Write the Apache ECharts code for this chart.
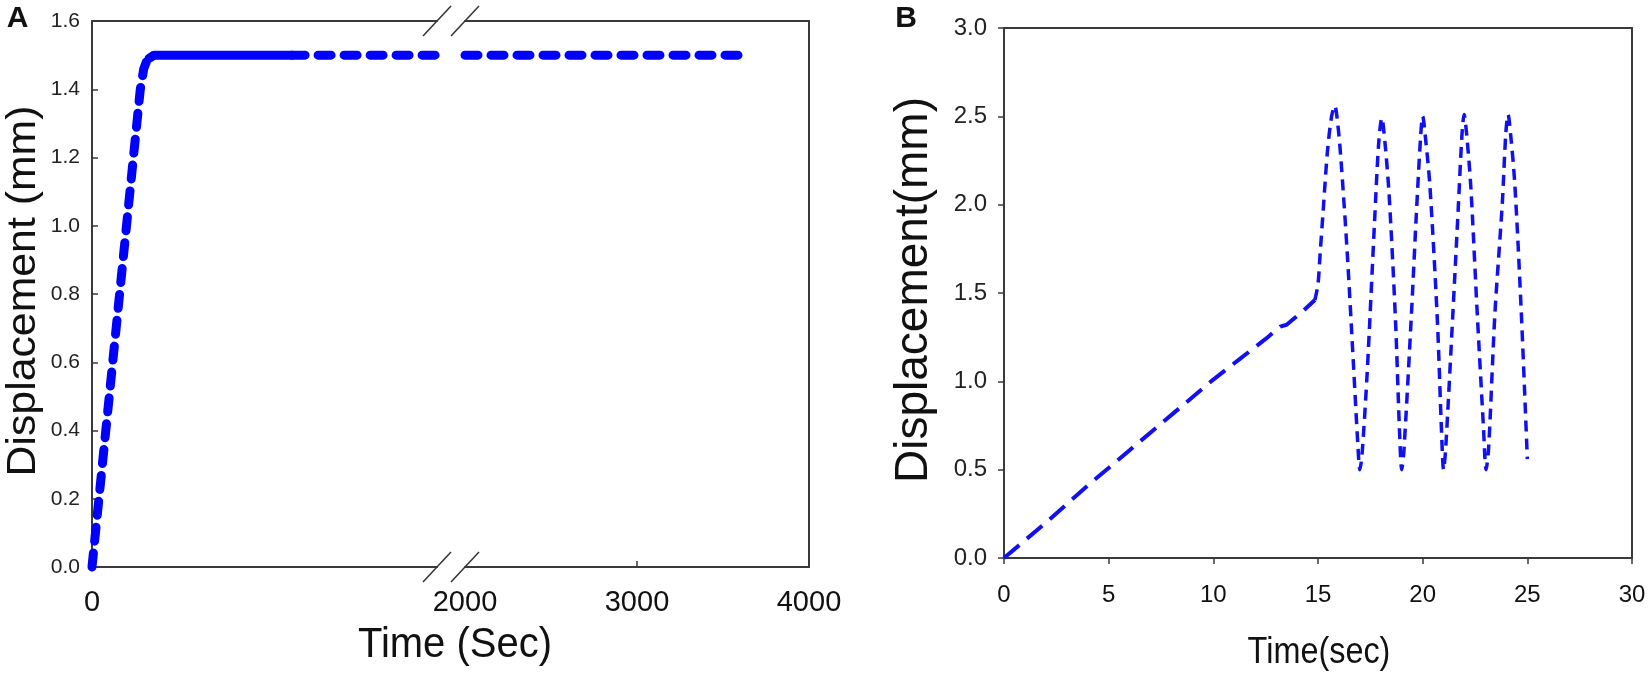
<!DOCTYPE html>
<html><head><meta charset="utf-8">
<script src="https://cdn.jsdelivr.net/npm/echarts@6/dist/echarts.min.js"></script>
<style>html,body{margin:0;padding:0;background:#fff}#c{width:1650px;height:684px}</style>
</head><body><div id="c"></div>
<script>
// ---- Panel A data (time in s, displacement in mm) ----
const timeA = [0,20,40,60,80,100,120,140,160,180,200,220,240,260,280,300,315,330,360,450,600,800,1000,1160,1400,1600,1800,2000,2200,2400,2600,2800,3000,3200,3400,3600];
const dispA = [0,0.1,0.2,0.3,0.4,0.5,0.6,0.7,0.8,0.9,1.0,1.1,1.2,1.3,1.4,1.46,1.48,1.49,1.5,1.5,1.5,1.5,1.5,1.5,1.5,1.5,1.5,1.5,1.5,1.5,1.5,1.5,1.5,1.5,1.5,1.5];
const xLabelsA = [0, 2000, 3000, 4000];
// ---- Panel B data ----
const timeB = [0,2,4,6,8,10,11.3,12.5,13.2,13.5,13.8,14.3,14.85,15.0,15.1,15.25,15.45,15.65,15.8,15.95,16.1,16.4,16.7,16.9,17.0,17.1,17.35,17.7,17.9,18.05,18.2,18.4,18.7,18.9,19.0,19.1,19.45,19.7,19.9,20.0,20.15,20.35,20.7,20.9,21.0,21.1,21.45,21.7,21.88,21.98,22.1,22.3,22.6,22.9,23.03,23.15,23.45,23.8,23.97,24.08,24.2,24.4,24.7,25.0];
const dispB = [0,0.2,0.41,0.61,0.81,1.01,1.13,1.24,1.31,1.32,1.35,1.40,1.46,1.55,1.72,1.97,2.3,2.5,2.56,2.45,2.25,1.72,1.08,0.65,0.5,0.58,1.05,1.9,2.35,2.49,2.35,2.05,1.35,0.7,0.5,0.6,1.35,1.95,2.38,2.5,2.36,2.1,1.35,0.72,0.5,0.62,1.4,1.98,2.4,2.51,2.4,2.1,1.4,0.75,0.5,0.62,1.38,2.0,2.4,2.51,2.4,2.12,1.42,0.56];

const FONT = 'Arial, "Liberation Sans", sans-serif';
const AX = '#3a3a3a';
function pairs(t, v, lo, hi){ const o=[]; for(let i=0;i<t.length;i++){ if(t[i]>=lo && t[i]<=hi) o.push([t[i],v[i]]); } return o; }
const lineOnly = (extra) => Object.assign({type:'value', axisLine:{show:true,onZero:false,lineStyle:{color:AX,width:2}}, axisTick:{show:false}, axisLabel:{show:false}, splitLine:{show:false}}, extra);

const chart = echarts.init(document.getElementById('c'));
const option = {
  animation:false,
  backgroundColor:'#fff',
  grid:[
    {left:92, top:21, width:345, height:546},
    {left:465, top:21, width:344, height:546},
    {left:1004, top:28, width:628, height:530}
  ],
  xAxis:[
    {gridIndex:0, type:'value', min:0, max:2000, interval:1000,
     axisLine:{show:true,onZero:false,lineStyle:{color:AX,width:2}}, axisTick:{show:false}, splitLine:{show:false},
     axisLabel:{formatter:v=>xLabelsA.includes(v)&&v<2000?String(v):'', fontSize:29, color:'#111', margin:21, fontFamily:FONT}},
    {gridIndex:1, type:'value', min:2000, max:4000, interval:1000,
     axisLine:{show:true,onZero:false,lineStyle:{color:AX,width:2}},
     axisTick:{show:true,inside:true,length:6,customValues:[3000],lineStyle:{color:AX,width:1.5}}, splitLine:{show:false},
     axisLabel:{formatter:v=>xLabelsA.includes(v)?String(v):'', fontSize:29, color:'#111', margin:21, fontFamily:FONT, showMaxLabel:true, showMinLabel:true}},
    lineOnly({gridIndex:0, position:'top', min:0, max:2000}),
    lineOnly({gridIndex:1, position:'top', min:2000, max:4000}),
    {gridIndex:2, type:'value', min:0, max:30, interval:5,
     axisLine:{show:true,onZero:false,lineStyle:{color:AX,width:2}},
     axisTick:{show:true,inside:false,length:6,lineStyle:{color:AX,width:1.5}}, splitLine:{show:false},
     axisLabel:{fontSize:24, color:'#111', margin:25, fontFamily:FONT}},
    lineOnly({gridIndex:2, position:'top', min:0, max:30})
  ],
  yAxis:[
    {gridIndex:0, type:'value', min:0, max:1.6, interval:0.2,
     axisLine:{show:true,onZero:false,lineStyle:{color:AX,width:2}},
     axisTick:{show:true,inside:true,length:6,lineStyle:{color:AX,width:1.5}}, splitLine:{show:false},
     axisLabel:{formatter:v=>v.toFixed(1), fontSize:21, color:'#222', margin:12, fontFamily:FONT}},
    lineOnly({gridIndex:1, position:'right', min:0, max:1.6}),
    {gridIndex:2, type:'value', min:0, max:3, interval:0.5,
     axisLine:{show:true,onZero:false,lineStyle:{color:AX,width:2}},
     axisTick:{show:true,inside:false,length:6,lineStyle:{color:AX,width:1.5}}, splitLine:{show:false},
     axisLabel:{formatter:v=>v.toFixed(1), fontSize:24, color:'#222', margin:17, fontFamily:FONT}},
    lineOnly({gridIndex:2, position:'right', min:0, max:3})
  ],
  series:[
    {type:'line', xAxisIndex:0, yAxisIndex:0, data:pairs(timeA,dispA,0,330), showSymbol:false, symbol:'none', clip:false,
     lineStyle:{color:'#0000ff', width:9, type:[14,12], cap:'round', join:'round'}},
    {type:'line', xAxisIndex:0, yAxisIndex:0, data:pairs(timeA,dispA,330,1160), showSymbol:false, symbol:'none', clip:false,
     lineStyle:{color:'#0000ff', width:9, type:'solid', cap:'round', join:'round'}},
    {type:'line', xAxisIndex:0, yAxisIndex:0, data:pairs(timeA,dispA,1160,2000), showSymbol:false, symbol:'none', clip:false,
     lineStyle:{color:'#0000ff', width:9, type:[13,13], cap:'round', join:'round'}},
    {type:'line', xAxisIndex:1, yAxisIndex:1, data:pairs(timeA,dispA,2000,3600), showSymbol:false, symbol:'none', clip:false,
     lineStyle:{color:'#0000ff', width:9, type:[13,13], cap:'round', join:'round'}},
    {type:'line', xAxisIndex:4, yAxisIndex:2, data:pairs(timeB,dispB,0,14.85), showSymbol:false, symbol:'none', clip:false,
     lineStyle:{color:'#1010f0', width:4, type:[20,10]}},
    {type:'line', xAxisIndex:4, yAxisIndex:2, data:pairs(timeB,dispB,14.85,25), showSymbol:false, symbol:'none', clip:false, smooth:0.3,
     lineStyle:{color:'#1010f0', width:3.5, type:[11,7]}}
  ]
};
chart.setOption(option);

// decorations: panel letters, axis titles, axis-break marks
const xe1 = chart.convertToPixel({xAxisIndex:0}, 2000);
const xs2 = chart.convertToPixel({xAxisIndex:1}, 2000);
const yT = chart.convertToPixel({yAxisIndex:0}, 1.6);
const yB = chart.convertToPixel({yAxisIndex:0}, 0);
function txt(text, x, y, size, opts){
  opts = opts || {};
  return {type:'text', x:x, y:y, rotation:opts.rot||0, scaleX:opts.sx||1, z:100,
    style:{text:text, font:(opts.bold?'bold ':'')+size+'px '+FONT, fill:'#111',
      textAlign:'center', textVerticalAlign:'middle', align:'center', verticalAlign:'middle'}};
}
function slash(cx, cy){
  return {type:'line', z:100, shape:{x1:cx-14, y1:cy+15, x2:cx+14, y2:cy-15}, style:{stroke:'#333', lineWidth:1.5}};
}
chart.setOption({graphic:[
  txt('A', 17.5, 19, 30, {bold:true}),
  txt('B', 906, 19, 30, {bold:true}),
  txt('Time (Sec)', 455, 645, 43, {sx:0.93}),
  txt('Time(sec)', 1319, 653, 36, {sx:0.9}),
  txt('Displacement (mm)', 24, 291, 40, {rot:Math.PI/2, sx:1.07}),
  txt('Displacement(mm)', 914, 290, 46, {rot:Math.PI/2}),
  slash(xe1, yT), slash(xs2, yT), slash(xe1, yB), slash(xs2, yB)
]});
</script>
</body></html>
